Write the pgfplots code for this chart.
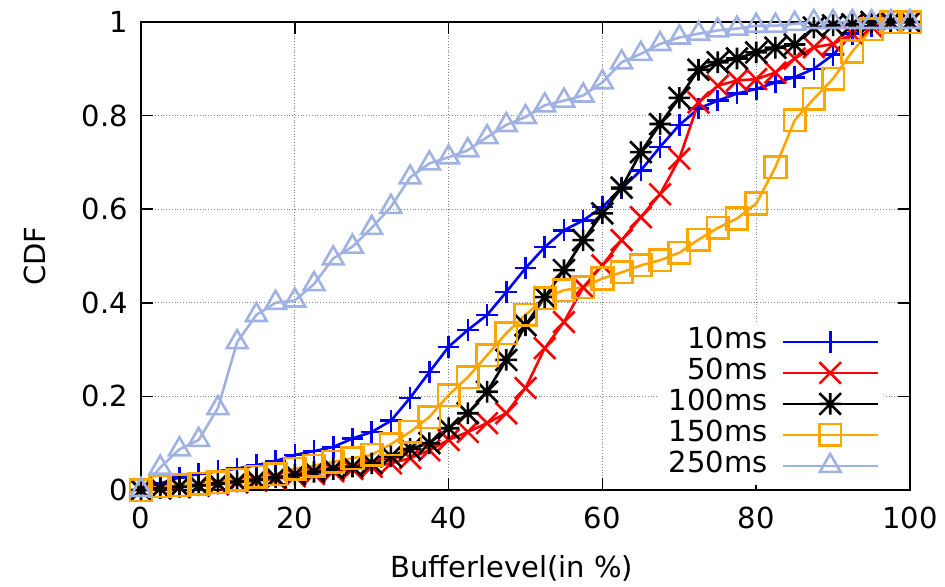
\documentclass[border=0pt]{standalone}
\usepackage{fontspec}
\setmainfont{DejaVu Sans}
\usepackage{pgfplots}
\usepackage{pgfplotstable}
\pgfplotsset{compat=1.18}
\definecolor{cblue}{RGB}{0,0,255}
\definecolor{cred}{RGB}{255,0,0}
\definecolor{corange}{RGB}{255,165,0}
\definecolor{clight}{RGB}{160,178,226}
\pgfdeclareplotmark{gpstar}{%
  \pgfpathmoveto{\pgfqpoint{0pt}{\pgfplotmarksize}}\pgfpathlineto{\pgfqpoint{0pt}{-\pgfplotmarksize}}%
  \pgfpathmoveto{\pgfqpoint{\pgfplotmarksize}{0pt}}\pgfpathlineto{\pgfqpoint{-\pgfplotmarksize}{0pt}}%
  \pgfpathmoveto{\pgfqpoint{\pgfplotmarksize}{\pgfplotmarksize}}\pgfpathlineto{\pgfqpoint{-\pgfplotmarksize}{-\pgfplotmarksize}}%
  \pgfpathmoveto{\pgfqpoint{\pgfplotmarksize}{-\pgfplotmarksize}}\pgfpathlineto{\pgfqpoint{-\pgfplotmarksize}{\pgfplotmarksize}}%
  \pgfusepathqstroke}
\pgfplotstableread{
x a b c d e
0 0 0 0 0 0
2.5 0.014 0.003 0.004 0.008 0.048
5 0.027 0.006 0.007 0.010 0.087
7.5 0.034 0.009 0.010 0.013 0.107
10 0.040 0.012 0.014 0.017 0.175
12.5 0.046 0.016 0.018 0.022 0.316
15 0.053 0.020 0.022 0.028 0.374
17.5 0.062 0.024 0.027 0.034 0.400
20 0.075 0.029 0.033 0.045 0.405
22.5 0.083 0.034 0.039 0.052 0.440
25 0.092 0.040 0.045 0.060 0.495
27.5 0.110 0.045 0.050 0.068 0.520
30 0.124 0.050 0.057 0.075 0.560
32.5 0.148 0.057 0.072 0.098 0.605
35 0.197 0.068 0.088 0.124 0.668
37.5 0.252 0.085 0.100 0.156 0.698
40 0.306 0.107 0.132 0.203 0.711
42.5 0.342 0.124 0.164 0.241 0.726
45 0.374 0.143 0.210 0.288 0.754
47.5 0.423 0.164 0.278 0.335 0.780
50 0.474 0.218 0.352 0.374 0.797
52.5 0.519 0.303 0.412 0.410 0.822
55 0.555 0.359 0.470 0.427 0.832
57.5 0.576 0.433 0.534 0.433 0.843
60 0.605 0.480 0.591 0.452 0.871
62.5 0.644 0.534 0.646 0.465 0.914
65 0.683 0.583 0.722 0.480 0.932
67.5 0.733 0.632 0.782 0.491 0.953
70 0.780 0.708 0.838 0.507 0.967
72.5 0.815 0.828 0.898 0.535 0.975
75 0.832 0.864 0.914 0.560 0.982
77.5 0.847 0.875 0.922 0.580 0.986
80 0.857 0.878 0.935 0.612 0.992
82.5 0.871 0.892 0.945 0.690 0.992
85 0.882 0.922 0.952 0.790 0.996
87.5 0.900 0.946 0.988 0.836 1.0
90 0.930 0.953 0.993 0.879 1.0
92.5 0.975 0.975 0.995 0.937 1.0
95 0.990 0.990 1.0 0.985 1.0
97.5 1.0 1.0 1.0 1.0 1.0
100 1.0 1.0 1.0 1.0 1.0
}\datatable
\begin{document}
\begin{tikzpicture}
\path[use as bounding box] (-70.5pt,-48pt) rectangle (402pt,245pt);
\begin{axis}[
  at={(0,0)}, anchor=south west,
  scale only axis, width=384.5pt, height=234pt,
  xmin=0, xmax=100, ymin=0, ymax=1,
  xtick={0,20,40,60,80,100},
  ytick={0,0.2,0.4,0.6,0.8,1},
  yticklabels={0,0.2,0.4,0.6,0.8,1},
  /pgf/number format/assume math mode=true,
  tick align=inside,
  major tick length=6pt,
  axis line style={line width=1pt},
  every tick/.style={black, line width=0.8pt},
  grid=major,
  major grid style={densely dotted, gray, line width=0.6pt},
  tick label style={font=\fontsize{14.5}{16}\selectfont},
  xticklabel style={yshift=-5pt},
  yticklabel style={xshift=-3pt},
  label style={font=\fontsize{14.5}{16}\selectfont},
  xlabel={Bufferlevel(in \%)},
  ylabel={CDF},
  xlabel style={at={(axis description cs:0.482,-0.167)}, anchor=center},
  ylabel style={at={(axis description cs:-0.138,0.5)}, anchor=center},
  clip=false,
  legend plot pos=right,
  legend cell align=right,
  legend style={draw=none, fill=white, at={(0.968,0.009)}, anchor=south east,
    font=\fontsize{14.5}{16}\selectfont, row sep=0pt,
    nodes={inner ysep=0pt, text height=11pt, text depth=4.5pt},
    /tikz/every odd column/.append style={column sep=5pt}},
  legend image code/.code={\draw[mark repeat=2, mark phase=2] plot coordinates {(0pt,0pt) (23.75pt,0pt) (47.5pt,0pt)};},
  every axis plot/.append style={line width=1.3pt},
]
\addplot[cblue, mark=+, mark size=5.4pt] table[x=x,y=a] {\datatable};
\addlegendentry{10ms}
\addplot[cred, mark=x, mark size=7.6pt] table[x=x,y=b] {\datatable};
\addlegendentry{50ms}
\addplot[black, mark=gpstar, mark size=5.4pt] table[x=x,y=c] {\datatable};
\addlegendentry{100ms}
\addplot[corange, mark=square, mark size=5.4pt] table[x=x,y=d] {\datatable};
\addlegendentry{150ms}
\addplot[clight, mark=triangle, mark size=6pt] table[x=x,y=e] {\datatable};
\addlegendentry{250ms}
\end{axis}
\end{tikzpicture}
\end{document}
